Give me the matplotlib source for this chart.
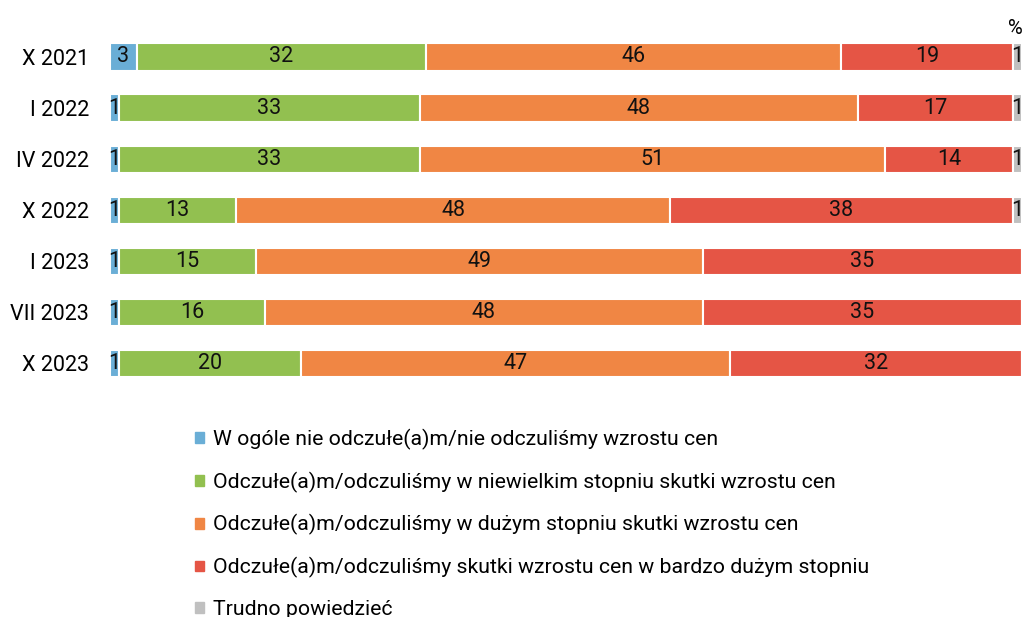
import matplotlib
matplotlib.use('Agg')
import matplotlib.pyplot as plt
from matplotlib.patches import Patch
import numpy as np

plt.rcParams['font.family'] = ['Roboto', 'DejaVu Sans']

# dane
okresy = ['X 2021', 'I 2022', 'IV 2022', 'X 2022', 'I 2023', 'VII 2023', 'X 2023']
wcale_nie = [3, 1, 1, 1, 1, 1, 1]
niewielki = [32, 33, 33, 13, 15, 16, 20]
duzy = [46, 48, 51, 48, 49, 48, 47]
bardzo_duzy = [19, 17, 14, 38, 35, 35, 32]
trudno = [1, 1, 1, 1, 0, 0, 0]

serie = [wcale_nie, niewielki, duzy, bardzo_duzy, trudno]
etykiety = ['W ogóle nie odczułe(a)m/nie odczuliśmy wzrostu cen',
            'Odczułe(a)m/odczuliśmy w niewielkim stopniu skutki wzrostu cen',
            'Odczułe(a)m/odczuliśmy w dużym stopniu skutki wzrostu cen',
            'Odczułe(a)m/odczuliśmy skutki wzrostu cen w bardzo dużym stopniu',
            'Trudno powiedzieć']
kolory = ['#6aaed6', '#92c050', '#f08644', '#e55545', '#c0c0c0']

dane = np.array(serie, dtype=float)
sumy = dane.sum(axis=0)
udzialy = dane / sumy * 100  # słupki rozciągnięte do 100%

fig = plt.figure(figsize=(10.27, 6.17), dpi=100)
ax = fig.add_axes([0.107, 0.370, 0.888, 0.579])

y = np.arange(len(okresy))
lewo = np.zeros(len(okresy))
for i in range(len(serie)):
    ax.barh(y, udzialy[i], left=lewo, height=0.53, color=kolory[i],
            edgecolor='white', linewidth=1.5)
    for j in range(len(okresy)):
        if serie[i][j] > 0:
            ax.text(lewo[j] + udzialy[i][j] / 2, y[j], str(serie[i][j]),
                    ha='center', va='center', fontsize=15.5, color='#111111')
    lewo += udzialy[i]

ax.set_xlim(0, 100)
ax.set_ylim(len(okresy) - 0.5, -0.5)
ax.set_yticks(y)
ax.set_yticklabels(okresy, fontsize=15.5)
ax.tick_params(axis='y', length=0, pad=15)
ax.set_xticks([])
for s in ax.spines.values():
    s.set_visible(False)

fig.text(1023 / 1027, 1 - 28 / 617, '%', ha='right', va='center', fontsize=14.5)

uchwyty = [Patch(color=k) for k in kolory]
fig.legend(uchwyty, etykiety, loc='upper left', bbox_to_anchor=(0.19, 0.305),
           frameon=False, fontsize=15.3, handlelength=0.4, handleheight=0.4,
           handletextpad=0.45, labelspacing=1.02, borderpad=0, borderaxespad=0)

fig.savefig('out.png', dpi=100)
